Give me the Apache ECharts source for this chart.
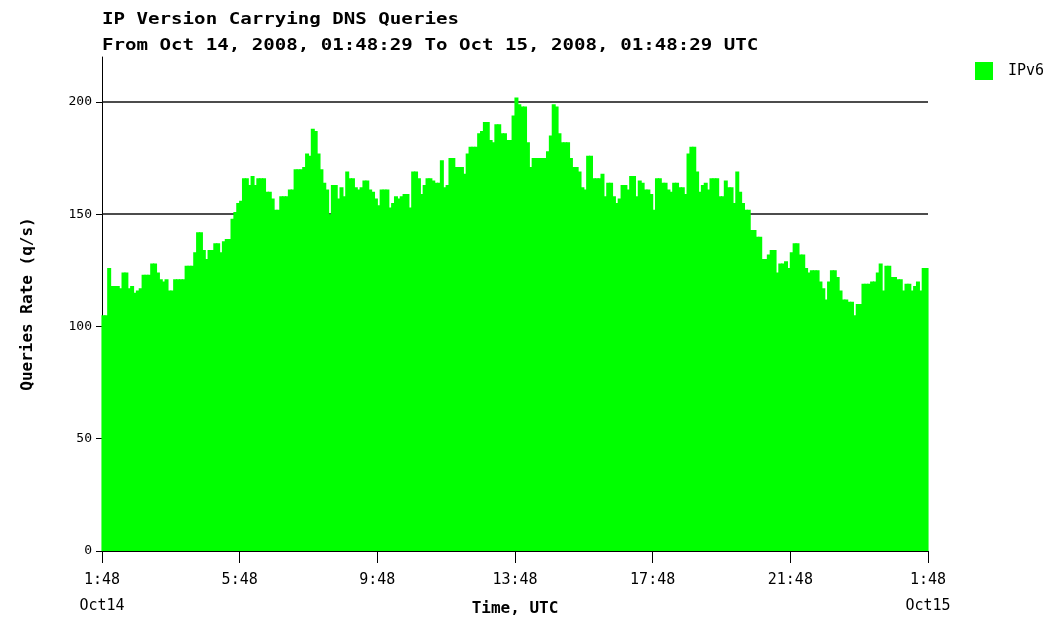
<!DOCTYPE html>
<html>
<head>
<meta charset="utf-8">
<script src="https://cdn.jsdelivr.net/npm/echarts@6/dist/echarts.min.js"></script>
<style>html,body{margin:0;padding:0;background:#fff;}#chart{width:1054px;height:618px;}</style>
</head>
<body>
<div id="chart"></div>
<script>
// 5-minute bins, Oct 14 01:48 UTC -> Oct 15 01:48 UTC (288 bins)
var seriesName = 'IPv6';
var values = [
105,105,126,118,118,118,117,124,124,117,
118,115,116,117,123,123,123,128,128,124,
121,120,121,116,116,121,121,121,121,127,
127,127,133,142,142,134,130,134,134,137,
137,133,138,139,139,148,151,155,156,166,
166,163,167,163,166,166,166,160,160,157,
152,152,158,158,158,161,161,170,170,170,
171,177,176,188,187,177,170,164,161,150,
163,163,157,162,158,169,166,166,162,161,
162,165,165,161,160,157,154,161,161,161,
153,155,158,157,158,159,159,153,169,169,
166,159,163,166,166,165,164,164,174,162,
163,175,175,171,171,171,168,177,180,180,
180,186,187,191,191,183,182,190,190,186,
186,183,183,194,202,199,198,198,182,171,
175,175,175,175,175,178,185,199,198,186,
182,182,182,175,171,171,169,162,161,176,
176,166,166,166,168,158,164,164,158,155,
157,163,163,161,167,167,158,165,164,161,
161,159,152,166,166,164,164,161,160,164,
164,162,162,159,177,180,180,169,160,163,
164,161,166,166,166,158,158,165,162,162,
155,169,160,155,152,152,143,143,140,140,
130,130,132,134,134,124,128,128,129,126,
133,137,137,132,132,126,124,125,125,125,
120,117,112,120,125,125,122,116,112,112,
111,111,105,110,110,119,119,119,120,120,
124,128,116,127,127,122,122,121,121,116,
119,119,116,118,120,116,126,126
];
var binsPerHour = 12;
var xTickLabels = ['1:48\nOct14', '5:48', '9:48', '13:48', '17:48', '21:48', '1:48\nOct15'];
var yTicks = [0, 50, 100, 150, 200];
var yGridLines = [50, 100, 150, 200];
var titleLine1 = 'IP Version Carrying DNS Queries';
var titleLine2 = 'From Oct 14, 2008, 01:48:29 To Oct 15, 2008, 01:48:29 UTC';

var mono = '"DejaVu Sans Mono", "Liberation Mono", monospace';
var barData = values.map(function (v, i) { return [(i + 0.5) / binsPerHour, v]; });

var chart = echarts.init(document.getElementById('chart'), null, {renderer: 'canvas'});
chart.setOption({
  animation: false,
  backgroundColor: '#ffffff',
  grid: {left: 102, right: 126, top: 57, bottom: 67, containLabel: false, outerBoundsMode: 'none'},
  graphic: [
    {type: 'text', x: 102, y: 13, scaleX: 1.275, style: {text: titleLine1, font: 'bold 15px ' + mono, fill: '#000', verticalAlign: 'top'}},
    {type: 'text', x: 102, y: 39, scaleX: 1.275, style: {text: titleLine2, font: 'bold 15px ' + mono, fill: '#000', verticalAlign: 'top'}}
  ],
  legend: {
    data: [seriesName], left: 975, top: 62, icon: 'rect', itemWidth: 18, itemHeight: 18,
    padding: 0, selectedMode: false,
    textStyle: {fontFamily: mono, fontSize: 15, color: '#000', padding: [0, 0, 0, 10]}
  },
  xAxis: {
    type: 'value', min: 0, max: 24, interval: 4,
    name: 'Time, UTC', nameLocation: 'middle', nameGap: 50, nameMoveOverlap: false,
    nameTextStyle: {fontFamily: mono, fontWeight: 'bold', fontSize: 16, color: '#000'},
    axisLine: {show: true, lineStyle: {color: '#000', width: 1}},
    axisTick: {show: true, length: 12, lineStyle: {color: '#000'}},
    axisLabel: {
      margin: 16, fontFamily: mono, fontSize: 15, color: '#000', lineHeight: 26,
      formatter: function (val) { return xTickLabels[Math.round(val / 4)]; }
    },
    splitLine: {show: false}
  },
  yAxis: {
    type: 'value', min: 0, max: 220,
    name: 'Queries Rate (q/s)', nameLocation: 'middle', nameGap: 66, nameMoveOverlap: false,
    nameTextStyle: {fontFamily: mono, fontWeight: 'bold', fontSize: 16, color: '#000'},
    axisLine: {show: true, lineStyle: {color: '#000', width: 1}},
    axisTick: {show: true, length: 6, lineStyle: {color: '#000'}, customValues: yTicks},
    axisLabel: {margin: 10, fontFamily: mono, fontSize: 13, color: '#000', customValues: yTicks},
    splitLine: {show: false}
  },
  series: [{
    name: 'gridLines', type: 'line', data: [], zlevel: 0, silent: true,
    markLine: {
      silent: true, symbol: 'none', animation: false,
      label: {show: false},
      lineStyle: {color: '#111', width: 1.5, type: 'solid'},
      data: yGridLines.map(function (v) { return {yAxis: v}; })
    }
  }, {
    name: seriesName, type: 'bar', data: barData, barWidth: 4, zlevel: 1,
    itemStyle: {color: '#00ff00'}
  }]
});
</script>
</body>
</html>
